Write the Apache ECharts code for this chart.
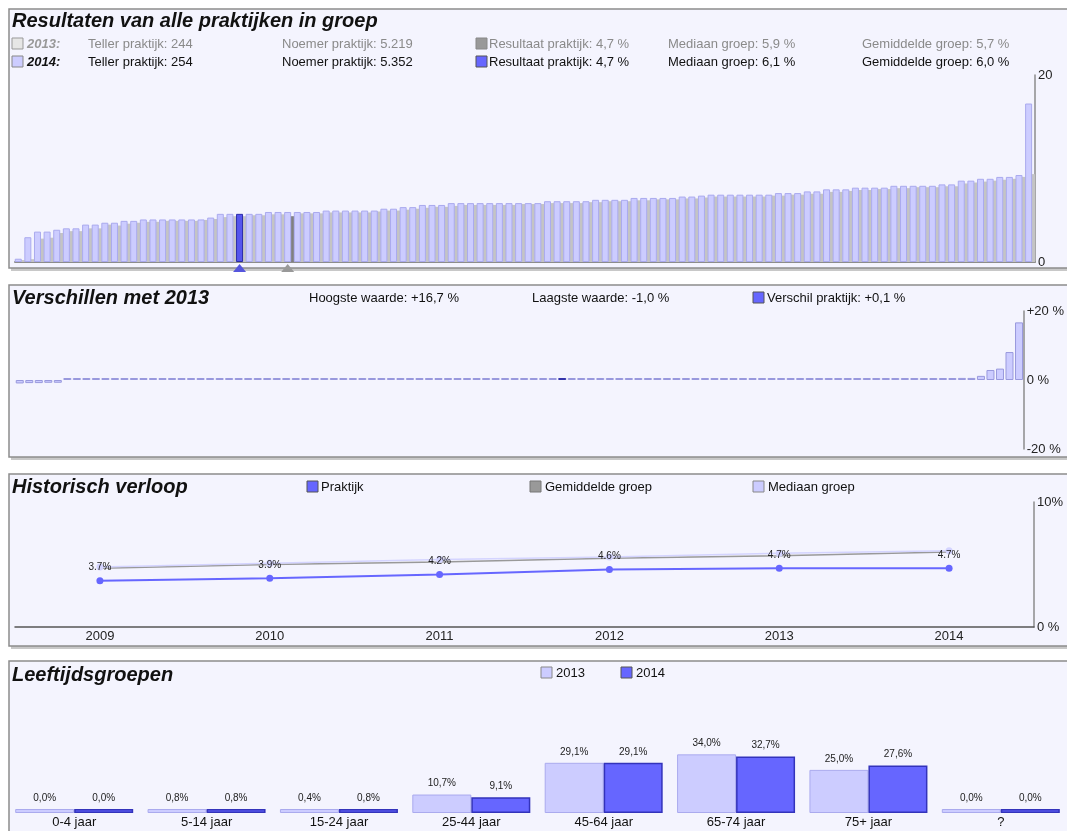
<!DOCTYPE html>
<html>
<head>
<meta charset="utf-8">
<script src="https://cdn.jsdelivr.net/npm/echarts@6/dist/echarts.min.js"></script>
<style>
  html, body { margin: 0; padding: 0; background: #fff; }
  #main { width: 1067px; height: 831px; }
</style>
</head>
<body>
<div id="main"></div>
<script>
// resultaten per praktijk, gesorteerd (2014 = lavendel, 2013 = grijs erachter)
let results2014 = [0.35, 2.65, 3.25, 3.25, 3.45, 3.6, 3.6, 4.0, 4.0, 4.2, 4.2, 4.4, 4.4, 4.55, 4.55, 4.55, 4.55, 4.55, 4.55, 4.55,
  4.75, 5.15, 5.15, 5.15, 5.15, 5.15, 5.35, 5.35, 5.35, 5.35, 5.35, 5.35, 5.5, 5.5, 5.5, 5.5, 5.5, 5.5, 5.7, 5.7,
  5.87, 5.87, 6.1, 6.1, 6.1, 6.3, 6.3, 6.3, 6.3, 6.3, 6.3, 6.3, 6.3, 6.3, 6.3, 6.5, 6.5, 6.5, 6.5, 6.5,
  6.65, 6.65, 6.65, 6.65, 6.85, 6.85, 6.85, 6.85, 6.85, 7.0, 7.0, 7.1, 7.2, 7.2, 7.2, 7.2, 7.2, 7.2, 7.2, 7.37,
  7.37, 7.37, 7.55, 7.55, 7.77, 7.77, 7.77, 7.95, 7.95, 7.95, 7.95, 8.15, 8.15, 8.15, 8.15, 8.15, 8.3, 8.3, 8.7, 8.7,
  8.9, 8.9, 9.1, 9.1, 9.3, 16.95];
let results2013 = [0.2, 0.3, 2.5, 2.6, 3.1, 3.3, 3.3, 3.6, 3.6, 4.0, 3.9, 4.1, 4.2, 4.3, 4.3, 4.4, 4.4, 4.4, 4.4, 4.5,
  4.6, 4.8, 4.9, 4.9, 5.0, 5.0, 5.1, 5.1, 4.9, 5.2, 5.2, 5.2, 5.3, 5.3, 5.3, 5.3, 5.3, 5.4, 5.5, 5.5,
  5.6, 5.7, 5.8, 5.9, 5.9, 6.0, 6.1, 6.1, 6.1, 6.1, 6.1, 6.1, 6.2, 6.2, 6.2, 6.3, 6.3, 6.3, 6.3, 6.4,
  6.4, 6.5, 6.5, 6.5, 6.6, 6.6, 6.7, 6.7, 6.7, 6.8, 6.8, 6.9, 7.0, 7.0, 7.0, 7.0, 7.0, 7.0, 7.1, 7.1,
  7.2, 7.2, 7.3, 7.3, 7.5, 7.5, 7.6, 7.7, 7.7, 7.8, 7.8, 7.9, 7.9, 8.0, 8.0, 8.0, 8.1, 8.1, 8.4, 8.5,
  8.6, 8.7, 8.8, 8.9, 9.1, 9.4];
let practiceIdx2014 = 23; // blauwe balk + driehoek
let practiceIdx2013 = 28; // grijze driehoek

// verschillen met 2013
let differences = [-1.0, -0.9, -0.9, -0.8, -0.8];
for (let i = 5; i < 99; i++) differences.push(i == 57 ? 0.1 : 0); // allemaal ~0
differences = differences.concat([0.6, 0.6, 1.2, 2.9, 3.3, 8.1, 16.7]);
let practiceIdxDiff = 57;

// historisch verloop
let years = ['2009', '2010', '2011', '2012', '2013', '2014'];
let histPraktijk = [3.7, 3.9, 4.2, 4.6, 4.7, 4.7];
let histGemiddelde = [4.7, 5.0, 5.2, 5.5, 5.7, 6.0];
let histMediaan = [4.8, 5.1, 5.4, 5.6, 5.9, 6.1];

// leeftijdsgroepen
let ageGroups = ['0-4 jaar', '5-14 jaar', '15-24 jaar', '25-44 jaar', '45-64 jaar', '65-74 jaar', '75+ jaar', '?'];
let age2013 = [0.0, 0.8, 0.4, 10.7, 29.1, 34.0, 25.0, 0.0];
let age2014 = [0.0, 0.8, 0.8, 9.1, 29.1, 32.7, 27.6, 0.0];

// kopregels bovenste paneel
let row2013 = ['Teller praktijk: 244', 'Noemer praktijk: 5.219', 'Resultaat praktijk: 4,7 %', 'Mediaan groep: 5,9 %', 'Gemiddelde groep: 5,7 %'];
let row2014 = ['Teller praktijk: 254', 'Noemer praktijk: 5.352', 'Resultaat praktijk: 4,7 %', 'Mediaan groep: 6,1 %', 'Gemiddelde groep: 6,0 %'];

var LAV = '#ccccff', LAV_B = '#aaaaee', BLUE = '#6666ff', BLUE_B = '#3333bb', GREY = '#c4c4c4';
var FONT = '"Liberation Sans", Arial, sans-serif';
var TITLE_FONT = 'italic bold 20px ' + FONT;
var SMALL = '13px ' + FONT;

var myChart = echarts.init(document.getElementById('main'));

// ---- graphic: panelen, titels, legenda's
var g = [];
function panel (y, h) {
  g.push({ type: 'rect', z: -20, shape: { x: 11, y: y + 3, width: 1070, height: h }, style: { fill: '#c8c8c8' } });
  g.push({ type: 'rect', z: -10, shape: { x: 9, y: y, width: 1070, height: h }, style: { fill: '#f4f4fe', stroke: '#8c8c8c', lineWidth: 1.5 } });
}
function txt (x, y, s, font, color) {
  g.push({ type: 'text', z: 50, style: { x: x, y: y, text: s, font: font || SMALL, fill: color || '#111', verticalAlign: 'middle' } });
}
function box (x, y, fill, stroke) {
  g.push({ type: 'rect', z: 50, shape: { x: x, y: y - 6, width: 11, height: 11 }, style: { fill: fill, stroke: stroke || '#888', lineWidth: 1 } });
}
panel(9, 259);
panel(285, 172);
panel(474, 172);
panel(661, 200);

txt(12, 21, 'Resultaten van alle praktijken in groep', TITLE_FONT);
var cols = [88, 282, 489, 668, 862];
box(12, 44, '#e6e6e6', '#999');
txt(27, 44, '2013:', 'italic bold 13px ' + FONT, '#999');
box(12, 62, LAV, '#888');
txt(27, 62, '2014:', 'italic bold 13px ' + FONT, '#111');
box(476, 44, '#999', '#888');
box(476, 62, BLUE, '#555');
row2013.forEach(function (s, i) { txt(cols[i], 44, s, SMALL, '#8a8a8a'); });
row2014.forEach(function (s, i) { txt(cols[i], 62, s, SMALL, '#111'); });

txt(12, 298, 'Verschillen met 2013', TITLE_FONT);
txt(309, 298, 'Hoogste waarde: +16,7 %');
txt(532, 298, 'Laagste waarde: -1,0 %');
box(753, 298, BLUE, '#555');
txt(767, 298, 'Verschil praktijk: +0,1 %');

txt(12, 487, 'Historisch verloop', TITLE_FONT);
box(307, 487, BLUE, '#555');
txt(321, 487, 'Praktijk');
box(530, 487, '#999', '#777');
txt(545, 487, 'Gemiddelde groep');
box(753, 487, LAV, '#888');
txt(768, 487, 'Mediaan groep');

txt(12, 675, 'Leeftijdsgroepen', TITLE_FONT);
box(541, 673, LAV, '#888');
txt(556, 673, '2013');
box(621, 673, BLUE, '#555');
txt(636, 673, '2014');

var pctComma = function (p) { return p.value.toFixed(1).replace('.', ',') + '%'; };

let option = {
  animation: false,
  backgroundColor: '#fff',
  textStyle: { fontFamily: FONT },
  graphic: g,
  grid: [
    { left: 15, top: 75, width: 1020, height: 187 },
    { left: 15, top: 311, width: 1013, height: 138 },
    { left: 15, top: 502, width: 1019, height: 125 },
    { left: 8, top: 744, width: 1061, height: 69 }
  ],
  xAxis: [
    { gridIndex: 0, type: 'category', data: results2014.map(function (v, i) { return i; }),
      axisLine: { lineStyle: { color: '#8c8c8c', width: 2 } }, axisTick: { show: false }, axisLabel: { show: false } },
    { gridIndex: 1, type: 'category', data: differences.map(function (v, i) { return i; }),
      axisLine: { show: false }, axisTick: { show: false }, axisLabel: { show: false } },
    { gridIndex: 2, type: 'category', data: years,
      axisLine: { lineStyle: { color: '#555', width: 1.5 } }, axisTick: { show: false },
      axisLabel: { color: '#222', fontSize: 13, margin: 3 } },
    { gridIndex: 3, type: 'category', data: ageGroups,
      axisLine: { show: false }, axisTick: { show: false },
      axisLabel: { color: '#111', fontSize: 13, margin: 3 } }
  ],
  yAxis: [
    { gridIndex: 0, type: 'value', position: 'right', min: 0, max: 20, interval: 20,
      axisLine: { show: true, lineStyle: { color: '#8c8c8c', width: 1.5 } }, axisTick: { show: false }, splitLine: { show: false },
      axisLabel: { color: '#222', fontSize: 13, margin: 3 } },
    { gridIndex: 1, type: 'value', position: 'right', min: -20, max: 20, interval: 20,
      axisLine: { show: true, lineStyle: { color: '#8c8c8c', width: 1.5 } }, axisTick: { show: false }, splitLine: { show: false },
      axisLabel: { color: '#222', fontSize: 13, margin: 3,
        formatter: function (v) { return v > 0 ? '+' + v + ' %' : v + ' %'; } } },
    { gridIndex: 2, type: 'value', position: 'right', min: 0, max: 10, interval: 10,
      axisLine: { show: true, lineStyle: { color: '#8c8c8c', width: 1.5 } }, axisTick: { show: false }, splitLine: { show: false },
      axisLabel: { color: '#222', fontSize: 13, margin: 3,
        formatter: function (v) { return v == 0 ? '0 %' : v + '%'; } } },
    { gridIndex: 3, type: 'value', min: 0, max: 40, show: false }
  ],
  series: [
    { // 2014 (voor)
      type: 'bar', xAxisIndex: 0, yAxisIndex: 0, z: 3, barWidth: 7, barGap: '-55%',
      itemStyle: { color: LAV, borderColor: LAV_B, borderWidth: 1 },
      data: results2014.map(function (v, i) {
        if (i == practiceIdx2014) return { value: v, itemStyle: { color: '#5555ee', borderColor: '#2a2aa8' } };
        return v;
      }),
      markPoint: {
        silent: true, symbol: 'triangle', symbolSize: [13, 8], symbolOffset: [0, 6], label: { show: false },
        data: [
          { coord: [practiceIdx2014, 0], itemStyle: { color: '#5555dd' } },
          { coord: [practiceIdx2013, 0], itemStyle: { color: '#999' } }
        ]
      }
    },
    { // 2013 (achter)
      type: 'bar', xAxisIndex: 0, yAxisIndex: 0, z: 2, barWidth: 7,
      itemStyle: { color: GREY },
      data: results2013.map(function (v, i) {
        if (i == practiceIdx2013) return { value: v, itemStyle: { color: '#808080' } };
        return v;
      })
    },
    { // verschillen
      type: 'bar', xAxisIndex: 1, yAxisIndex: 1, barWidth: 8, barMinHeight: 2,
      itemStyle: { color: LAV, borderColor: '#9999dd', borderWidth: 1 },
      data: differences.map(function (v, i) {
        if (i == practiceIdxDiff) return { value: v, itemStyle: { color: '#5555cc', borderColor: '#3333aa' } };
        return v;
      })
    },
    { name: 'Gemiddelde groep', type: 'line', xAxisIndex: 2, yAxisIndex: 2, data: histGemiddelde,
      symbol: 'none', lineStyle: { color: '#999', width: 1.5 } },
    { name: 'Mediaan groep', type: 'line', xAxisIndex: 2, yAxisIndex: 2, data: histMediaan,
      symbol: 'circle', symbolSize: 7, itemStyle: { color: '#d4d4ff' }, lineStyle: { color: '#d4d4ff', width: 1.5 } },
    { name: 'Praktijk', type: 'line', xAxisIndex: 2, yAxisIndex: 2, data: histPraktijk, z: 5,
      symbol: 'circle', symbolSize: 7, itemStyle: { color: BLUE }, lineStyle: { color: BLUE, width: 2 },
      label: { show: true, position: 'top', distance: 5, fontSize: 10, color: '#222',
        formatter: function (p) { return p.value.toFixed(1) + '%'; } } },
    { name: '2013', type: 'bar', xAxisIndex: 3, yAxisIndex: 3, barWidth: 59, barGap: '0%', barMinHeight: 4,
      itemStyle: { color: LAV, borderColor: LAV_B, borderWidth: 1 }, data: age2013,
      label: { show: true, position: 'top', distance: 6, fontSize: 10, color: '#222', formatter: pctComma } },
    { name: '2014', type: 'bar', xAxisIndex: 3, yAxisIndex: 3, barWidth: 59, barMinHeight: 4,
      itemStyle: { color: BLUE, borderColor: BLUE_B, borderWidth: 1.5 }, data: age2014,
      label: { show: true, position: 'top', distance: 6, fontSize: 10, color: '#222', formatter: pctComma } }
  ]
};

myChart.setOption(option);
</script>
</body>
</html>
